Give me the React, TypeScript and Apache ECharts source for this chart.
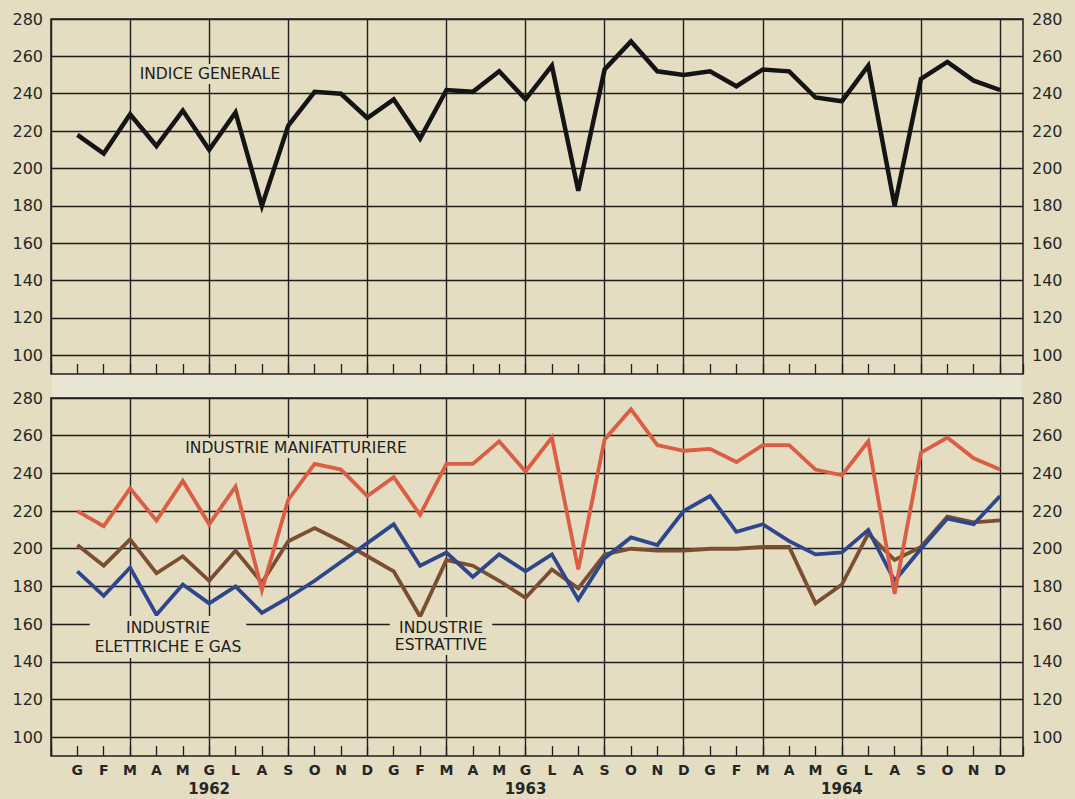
import React, { useEffect, useRef } from 'react';
import * as echarts from 'echarts';

// ---- data ----
const monthLetters = ['G', 'F', 'M', 'A', 'M', 'G', 'L', 'A', 'S', 'O', 'N', 'D'];
const years = ['1962', '1963', '1964'];

const indiceGenerale = [
  218, 208, 229, 212, 231, 210, 230, 180, 223, 241, 240, 227,
  237, 216, 242, 241, 252, 237, 255, 188, 253, 268, 252, 250,
  252, 244, 253, 252, 238, 236, 255, 180, 248, 257, 247, 242,
];
const industrieManifatturiere = [
  220, 212, 232, 215, 236, 213, 233, 178, 226, 245, 242, 228,
  238, 218, 245, 245, 257, 241, 259, 189, 258, 274, 255, 252,
  253, 246, 255, 255, 242, 239, 257, 176, 251, 259, 248, 242,
];
const industrieElettricheGas = [
  188, 175, 190, 165, 181, 171, 180, 166, 174, 183, 193, 203,
  213, 191, 198, 185, 197, 188, 197, 173, 195, 206, 202, 220,
  228, 209, 213, 204, 197, 198, 210, 183, 200, 216, 213, 228,
];
const industrieEstrattive = [
  202, 191, 205, 187, 196, 183, 199, 182, 204, 211, 204, 196,
  188, 164, 194, 191, 183, 174, 189, 179, 197, 200, 199, 199,
  200, 200, 201, 201, 171, 181, 208, 194, 201, 217, 214, 215,
];

const Y_MIN = 90;
const Y_MAX = 280;

// ---- styles ----
const PAPER = '#e4ddc1';
const BAND = '#e8e5d3';
const INK = '#1f1f1f';
const LABEL = '#262626';
const BLACK_LINE = '#141414';
const RED = '#db5d43';
const BLUE = '#2d468c';
const BROWN = '#7b4e31';

const LETTERING = "'DejaVu Sans', sans-serif";

export default function App() {
  const ref = useRef<HTMLDivElement>(null);

  useEffect(() => {
    const chart = echarts.init(ref.current!, null, { renderer: 'svg' });
    const nMonths = monthLetters.length * years.length;
    const toPts = (arr: number[]) => arr.map((v, i) => [i + 1, v]);

    const monthLabel = (v: number) => {
      if (!Number.isInteger(v) || v < 1 || v > nMonths) return '';
      const m = (v - 1) % 12;
      const y = Math.floor((v - 1) / 12);
      return m === 5 ? `${monthLetters[m]}\n{yr|${years[y]}}` : monthLetters[m];
    };

    const xAxisBase = (gridIndex: number, labels: boolean) => ({
      type: 'value',
      gridIndex,
      min: 0,
      max: nMonths + 0.87,
      interval: 1,
      axisLine: { show: false },
      axisTick: { show: true, inside: true, length: 10, lineStyle: { color: INK, width: 1.3 } },
      splitLine: {
        show: true,
        lineStyle: { color: [INK, 'rgba(0,0,0,0)', 'rgba(0,0,0,0)'], width: 1.4 },
      },
      axisLabel: labels
        ? {
            show: true,
            formatter: monthLabel,
            margin: 4,
            color: LABEL,
            fontFamily: 'DejaVu Sans',
            fontWeight: 'bold',
            fontSize: 14,
            lineHeight: 19,
            rich: {
              yr: { fontFamily: 'DejaVu Sans', fontWeight: 'bold', fontSize: 15, lineHeight: 19, color: LABEL },
            },
          }
        : { show: false },
    });

    const yAxisBase = (gridIndex: number, position: 'left' | 'right', split: boolean) => ({
      type: 'value',
      gridIndex,
      position,
      min: Y_MIN,
      max: Y_MAX,
      interval: 10,
      axisLine: { show: false },
      axisTick: { show: false },
      splitLine: split
        ? { show: true, lineStyle: { color: ['rgba(0,0,0,0)', INK], width: 1.4 } }
        : { show: false },
      axisLabel: {
        show: true,
        margin: position === 'left' ? 8 : 9,
        formatter: (v: number) => (v % 20 === 0 && v >= 100 ? String(v) : ''),
        color: LABEL,
        fontFamily: 'DejaVu Sans',
        fontSize: 16,
      },
    });

    const lineSeries = (name: string, data: number[], color: string, width: number, xi: number, yi: number, z: number) => ({
      type: 'line',
      name,
      data: toPts(data),
      xAxisIndex: xi,
      yAxisIndex: yi,
      showSymbol: false,
      symbol: 'none',
      z,
      lineStyle: { color, width, join: 'miter', cap: 'butt' },
    });

    const textStyle = {
      fill: '#202020',
      font: `15.5px ${LETTERING}`,
      backgroundColor: PAPER,
      padding: [2, 5, 2, 5],
      align: 'center',
      verticalAlign: 'middle',
    };

    chart.setOption({
      animation: false,
      backgroundColor: PAPER,
      grid: [
        { left: 51, top: 19, width: 972, height: 355, show: true, borderColor: INK, borderWidth: 1.5, backgroundColor: 'transparent' },
        { left: 51, top: 398, width: 972, height: 358, show: true, borderColor: INK, borderWidth: 1.5, backgroundColor: 'transparent' },
      ],
      xAxis: [xAxisBase(0, false), xAxisBase(1, true)],
      yAxis: [
        yAxisBase(0, 'left', true),
        yAxisBase(0, 'right', false),
        yAxisBase(1, 'left', true),
        yAxisBase(1, 'right', false),
      ],
      series: [
        lineSeries('Indice generale', indiceGenerale, BLACK_LINE, 4.5, 0, 0, 3),
        lineSeries('Industrie estrattive', industrieEstrattive, BROWN, 3.8, 1, 2, 3),
        lineSeries('Industrie elettriche e gas', industrieElettricheGas, BLUE, 3.8, 1, 2, 4),
        lineSeries('Industrie manifatturiere', industrieManifatturiere, RED, 3.8, 1, 2, 5),
      ],
      graphic: [
        { type: 'rect', z: -1, silent: true, shape: { x: 52, y: 375, width: 970, height: 22 }, style: { fill: BAND } },
        { type: 'text', z: 10, x: 210, y: 74, style: { ...textStyle, text: 'INDICE GENERALE' } },
        { type: 'text', z: 10, x: 296, y: 448, style: { ...textStyle, text: 'INDUSTRIE MANIFATTURIERE' } },
        { type: 'text', z: 10, x: 168, y: 637, style: { ...textStyle, text: 'INDUSTRIE\nELETTRICHE E GAS', lineHeight: 19 } },
        { type: 'text', z: 10, x: 441, y: 636, style: { ...textStyle, text: 'INDUSTRIE\nESTRATTIVE', lineHeight: 17 } },
      ],
    });

    return () => chart.dispose();
  }, []);

  return (
    <div
      ref={ref}
      style={{ position: 'fixed', left: 0, top: 0, width: 1075, height: 799, background: PAPER }}
    />
  );
}
